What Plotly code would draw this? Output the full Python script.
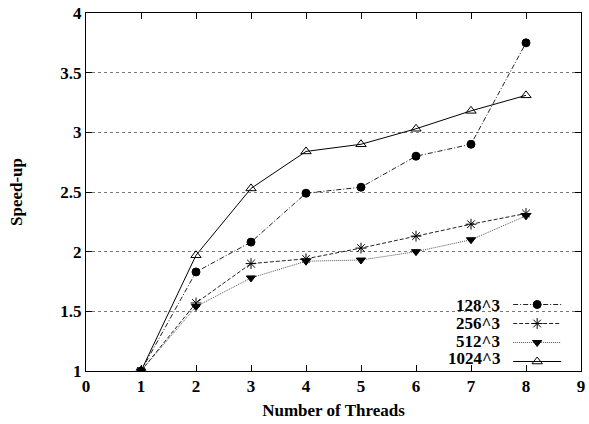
import plotly.graph_objects as go

threads = [1, 2, 3, 4, 5, 6, 7, 8]
s128 = [1.0, 1.83, 2.08, 2.49, 2.54, 2.80, 2.90, 3.75]
s256 = [1.0, 1.57, 1.90, 1.94, 2.03, 2.13, 2.23, 2.32]
s512 = [1.0, 1.54, 1.78, 1.92, 1.93, 2.00, 2.10, 2.30]
s1024 = [1.0, 1.97, 2.53, 2.84, 2.90, 3.03, 3.18, 3.31]
labels = ["128^3", "256^3", "512^3", "1024^3"]
x_ticks = [0, 1, 2, 3, 4, 5, 6, 7, 8, 9]
y_ticks = [1, 1.5, 2, 2.5, 3, 3.5, 4]

series = [s128, s256, s512, s1024]
dashes = ["5px,2px,1px,2px", "4px,2px", "1px,1px", "solid"]
lcolors = ["#222", "#222", "#555", "black"]
symbols = ["circle", "asterisk-open", "triangle-down", "triangle-up-open"]
msizes = [8, 9, 8, 9]

FONT = "Liberation Serif"
FS = 17
fig = go.Figure()
for lab, ys, d, s, ms, lc in zip(labels, series, dashes, symbols, msizes, lcolors):
    fig.add_trace(go.Scatter(
        x=threads, y=ys, mode="lines+markers", name="",
        line=dict(color=lc, width=1, dash=d),
        marker=dict(symbol=s, size=ms, color="black",
                    line=dict(color="black", width=1)),
        showlegend=True, hovertext=lab,
    ))

H, top, bottom, left, pw = 424, 13, 53, 86, 499.5
ph = H - top - bottom

def px_x(p):
    return (p - left) / pw

def px_y(p):
    return 1 - (p - top) / ph

# white key box (covers grid lines behind the key, as in the original)
fig.add_shape(type="rect", xref="paper", yref="paper", layer="between",
              x0=px_x(445), x1=px_x(573), y0=px_y(364), y1=px_y(296),
              fillcolor="white", line=dict(width=0))

# legend labels placed left of the legend samples
leg_y = [305, 323, 341, 358]
for lab, py in zip(labels, leg_y):
    fig.add_annotation(
        x=px_x(506), y=px_y(py),
        xref="paper", yref="paper", text="<b>" + lab + "</b>",
        showarrow=False, xanchor="right", yanchor="middle",
        font=dict(family=FONT, size=FS, color="black"))

fig.update_layout(
    width=589, height=424,
    margin=dict(l=86, r=4, t=13, b=53),
    paper_bgcolor="white", plot_bgcolor="white",
    font=dict(family=FONT, size=FS, color="black"),
    legend=dict(x=px_x(512), y=px_y(290),
                xanchor="left", yanchor="top",
                bgcolor="rgba(255,255,255,0)", borderwidth=0,
                font=dict(size=10), tracegroupgap=0, itemwidth=48),
    xaxis=dict(range=[0, 9], tickvals=x_ticks,
               ticktext=["<b>%d</b>" % v for v in x_ticks],
               ticklabeloverflow="allow",
               showgrid=False, zeroline=False,
               showline=True, linecolor="black", linewidth=1, mirror="ticks",
               ticks="inside", ticklen=6, tickcolor="black",
               title=dict(text="<b>Number of Threads</b>", font=dict(size=FS), standoff=8)),
    yaxis=dict(range=[1, 4], tickvals=y_ticks,
               ticktext=["<b>%g</b>" % v for v in y_ticks],
               showgrid=True, gridcolor="#777", griddash="dot", gridwidth=1,
               zeroline=False,
               showline=True, linecolor="black", linewidth=1, mirror="ticks",
               ticks="inside", ticklen=6, tickcolor="black",
               title=dict(text="<b>Speed-up</b>", font=dict(size=FS), standoff=33)),
)

fig.write_html("out.html", config={"displayModeBar": False},
               post_script="document.body.style.margin='0';document.body.style.overflow='hidden';")
